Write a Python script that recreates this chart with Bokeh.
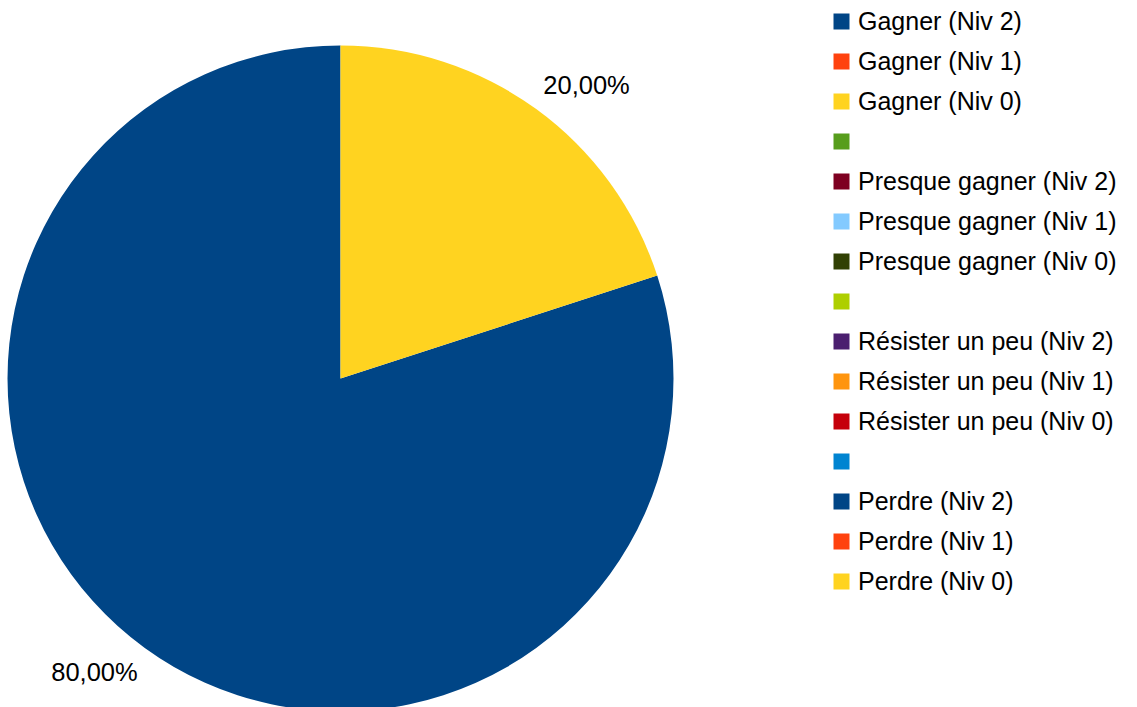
import math
from bokeh.plotting import figure
from bokeh.models import ColumnDataSource, Range1d, Legend, LegendItem
from bokeh.core.properties import value
from bokeh.embed import file_html
from bokeh.resources import INLINE

# ---- data ----
categories = [
    "Gagner (Niv 2)", "Gagner (Niv 1)", "Gagner (Niv 0)", "",
    "Presque gagner (Niv 2)", "Presque gagner (Niv 1)", "Presque gagner (Niv 0)", "",
    "Résister un peu (Niv 2)", "Résister un peu (Niv 1)", "Résister un peu (Niv 0)", "",
    "Perdre (Niv 2)", "Perdre (Niv 1)", "Perdre (Niv 0)",
]
values = [80, 0, 20, 0, 0, 0, 0, 0, 0, 0, 0, 0, 0, 0, 0]
colors = [
    "#004586", "#ff420e", "#ffd320", "#579d1c", "#7e0021", "#83caff", "#314004",
    "#aecf00", "#4b1f6f", "#ff950e", "#c5000b", "#0084d1", "#004586", "#ff420e", "#ffd320",
]

W, H = 1137, 707
FONT = "Liberation Sans"
cx, cy, R = 340, H - 378, 333

total = sum(values)
starts, ends, radii = [], [], []
a = math.pi / 2
for v in values:
    starts.append(a)
    a += 2 * math.pi * v / total
    ends.append(a)
    radii.append(R if v > 0 else 0)

src = ColumnDataSource(dict(cat=categories, val=values, color=colors,
                            start=starts, end=ends, radius=radii))

p = figure(width=W, height=H, output_backend="svg", toolbar_location=None,
           x_range=Range1d(0, W), y_range=Range1d(0, H),
           x_axis_location=None, y_axis_location=None, min_border=0)
p.grid.visible = False
p.outline_line_color = None
p.background_fill_color = "white"

r = p.wedge(x=cx, y=cy, radius="radius", start_angle="start", end_angle="end",
            direction="anticlock", color="color", line_color=None, source=src)

# percentage labels
for v, s, e in zip(values, starts, ends):
    if v <= 0:
        continue
    m = (s + e) / 2
    d = R + 12
    t = f"{100 * v / total:.2f}%".replace(".", ",")
    vert = "bottom" if math.sin(m) > 0 else "top"
    hor = "left" if math.cos(m) > 0 else "right"
    p.text(x=[cx + d * math.cos(m)], y=[cy + d * math.sin(m)], text=[t],
           anchor=f"{vert}_{hor}", text_font=value(FONT),
           text_font_size="25.5px", text_color="black")

items = [LegendItem(label=c, renderers=[r], index=i) for i, c in enumerate(categories)]
legend = Legend(items=items, location=(831, 111),
                glyph_width=20, glyph_height=20, label_height=30, spacing=10,
                label_standoff=7, padding=0, margin=0,
                border_line_color=None, background_fill_alpha=0,
                label_text_font=FONT, label_text_font_size="25px",
                label_text_color="black")
p.add_layout(legend)

open("out.html", "w").write(file_html(p, INLINE))
